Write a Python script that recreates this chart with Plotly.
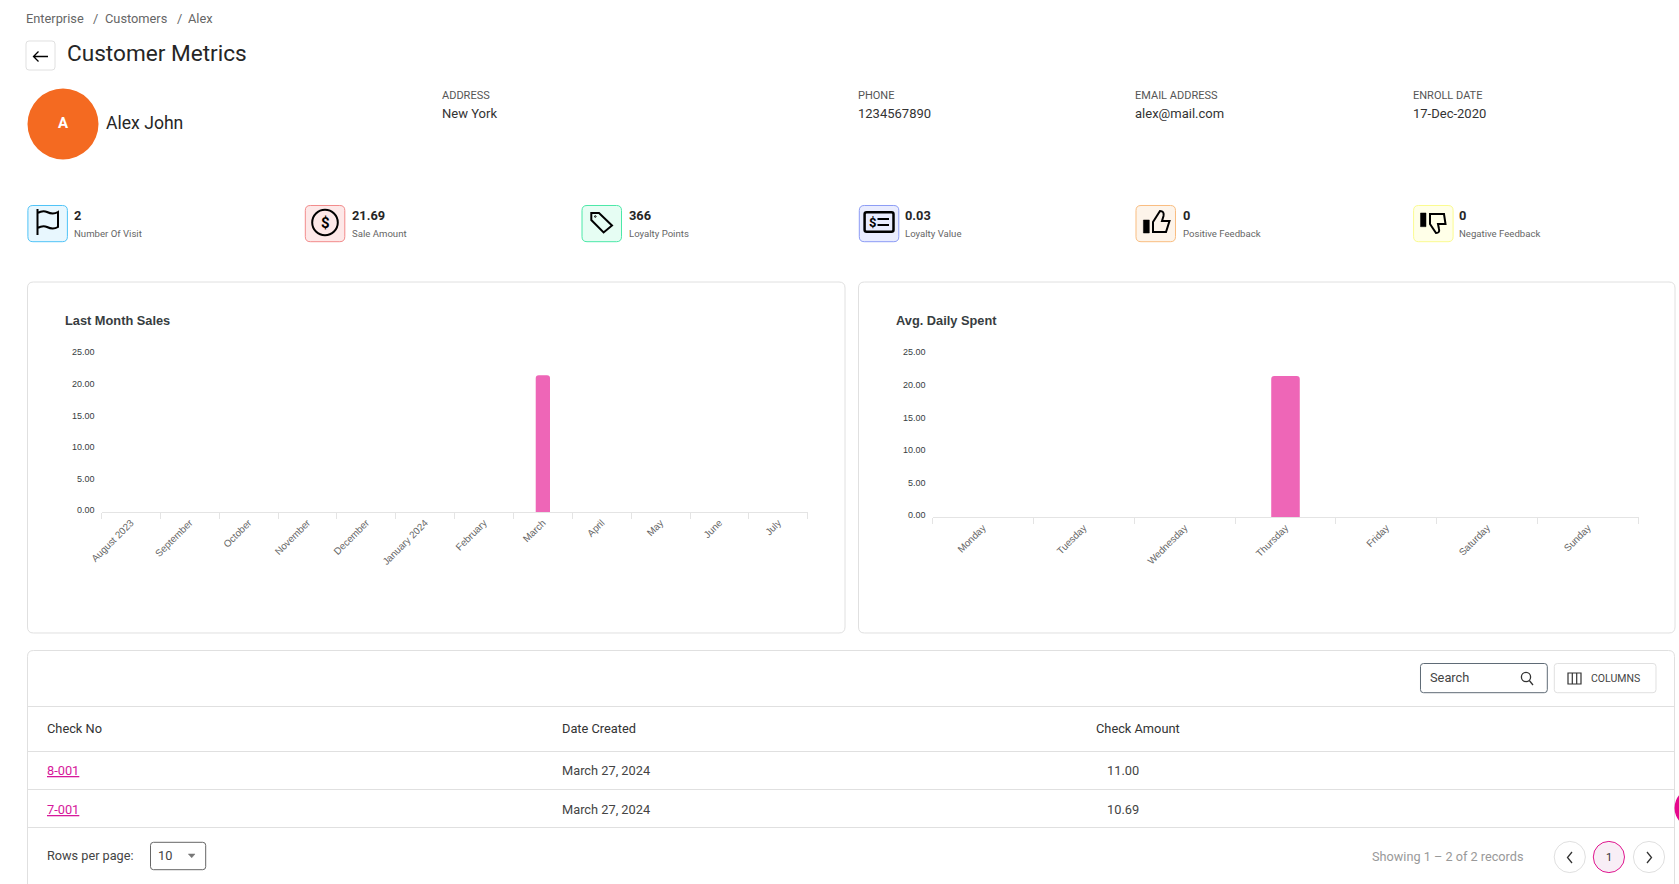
import re
import plotly.graph_objects as go

# chart data
months = ["August 2023", "September", "October", "November", "December", "January 2024",
          "February", "March", "April", "May", "June", "July"]
month_sales = [0, 0, 0, 0, 0, 0, 0, 21.69, 0, 0, 0, 0]
days = ["Monday", "Tuesday", "Wednesday", "Thursday", "Friday", "Saturday", "Sunday"]
daily_spent = [0, 0, 0, 21.69, 0, 0, 0]
y_ticks = [0, 5, 10, 15, 20, 25]
y_labels = ["0.00", "5.00", "10.00", "15.00", "20.00", "25.00"]

# page content
info_labels = ["ADDRESS", "PHONE", "EMAIL ADDRESS", "ENROLL DATE"]
info_values = ["New York", "1234567890", "alex@mail.com", "17-Dec-2020"]
stat_values = ["2", "21.69", "366", "0.03", "0", "0"]
stat_labels = ["Number Of Visit", "Sale Amount", "Loyalty Points", "Loyalty Value",
               "Positive Feedback", "Negative Feedback"]
table_headers = ["Check No", "Date Created", "Check Amount"]
check_nos = ["8-001", "7-001"]
check_dates = ["March 27, 2024", "March 27, 2024"]
check_amounts = ["11.00", "10.69"]

W, H = 1679, 884
FONT = "Roboto"
CHART_FONT = "Liberation Sans"
PINK = "#ee66b7"
BORDER = "#e0e0e0"

shapes = []
notes = []


def px(x):
    return x / W


def py(y):
    return 1 - y / H


def text(x, y, s, size=12.8, color="#333333", anchor="left", family=FONT):
    if anchor == "left":
        x -= 1
    notes.append(dict(x=px(x), y=py(y), xref="paper", yref="paper", text=s, showarrow=False, xanchor=anchor,
                      yanchor="middle", borderpad=0, font=dict(family=family, size=size, color=color)))


def to_paper(path):
    # path is written in page pixels, shapes want paper fractions
    nums = iter(range(10000))

    def conv(m):
        v = float(m.group())
        return f"{px(v):.6f}" if next(nums) % 2 == 0 else f"{py(v):.6f}"
    return re.sub(r"-?\d+\.?\d*", conv, path)


def draw(path, color="#000000", width=2, fill=None):
    s = dict(type="path", path=to_paper(path), xref="paper", yref="paper", layer="below",
             line=dict(color=color, width=width))
    if fill:
        s["fillcolor"] = fill
    shapes.append(s)


def rrect(x0, y0, x1, y1, r, color=BORDER, fill="#ffffff", width=1):
    draw(f"M{x0 + r} {y0} L{x1 - r} {y0} Q{x1} {y0} {x1} {y0 + r} L{x1} {y1 - r} Q{x1} {y1} {x1 - r} {y1} "
         f"L{x0 + r} {y1} Q{x0} {y1} {x0} {y1 - r} L{x0} {y0 + r} Q{x0} {y0} {x0 + r} {y0} Z",
         color=color, width=width, fill=fill)


def circle(cx, cy, r, color="#000000", fill=None, width=2):
    s = dict(type="circle", x0=px(cx - r), x1=px(cx + r), y0=py(cy + r), y1=py(cy - r), xref="paper", yref="paper",
             layer="below", line=dict(color=color, width=width))
    if fill:
        s["fillcolor"] = fill
    shapes.append(s)


def hline(y, x0=27.5, x1=1674.5):
    draw(f"M{x0} {y} L{x1} {y}", color=BORDER, width=1)


# header
text(26, 18, "Enterprise", 12.8, "#666666")
text(93, 18, "/", 12.8, "#666666")
text(105, 18, "Customers", 12.8, "#666666")
text(177, 18, "/", 12.8, "#666666")
text(188, 18, "Alex", 12.8, "#666666")
rrect(26, 41, 55, 70, 3)
draw("M48 56.5 L33.5 56.5 M38.5 51.5 L33.5 56.5 L38.5 61.5", width=1.3)
text(67, 53, "Customer Metrics", 22.6, "#262626")

circle(63, 124, 35.5, color="#f46a21", fill="#f46a21", width=0)
text(63, 123, "<b>A</b>", 15, "#ffffff", anchor="center")
text(105.5, 123.5, "Alex John", 17.6, "#262626")

info_x = [442.4, 858, 1135.4, 1412.5]
for x, lab, val in zip(info_x, info_labels, info_values):
    text(x, 95, lab, 11, "#555555")
    text(x, 113.5, val, 13, "#333333")

# stat tiles
box_x = [27.9, 305.3, 582, 859.3, 1136, 1413.6]
stat_x = [74.4, 351.7, 629, 905.3, 1182.6, 1458.9]
box_line = ["#4fc3f7", "#f28b8b", "#4be8a8", "#8c9cf5", "#f9bd80", "#fbfb90"]
box_fill = ["#e8f7fe", "#fde8e8", "#e6fdf3", "#e9ecfe", "#fdf4ea", "#ffffe8"]
for x, sx, c, f, val, lab in zip(box_x, stat_x, box_line, box_fill, stat_values, stat_labels):
    rrect(x, 205.5, x + 39.5, 241.7, 5, color=c, fill=f)
    text(sx, 215, f"<b>{val}</b>", 12.8, "#262626")
    text(sx, 234, lab, 9.6, "#666666")

# icons
draw("M37.5 209 L37.5 235 M37.5 213 Q43 210 47 212 Q53 215 58 212 L58 227 Q53 230 47 227 Q43 225 37.5 228")
circle(325, 222.5, 12.8)
text(325, 223, "<b>$</b>", 15, "#000000", anchor="center")
draw("M591.3 213 L599 213 L612 225.5 L603.6 232.5 L591.3 220 Z")
circle(595.3, 216.5, 0.8, width=1)
rrect(864.6, 212.3, 893.5, 231.7, 2, color="#000000", fill="rgba(0,0,0,0)", width=2.5)
text(872.6, 222, "<b>$</b>", 13, "#000000", anchor="center")
draw("M877.5 219 L889 219 M877.5 225 L889 225")
draw("M1143.4 220 L1149.3 220 L1149.3 233 L1143.4 233 Z", fill="#000000", width=0.5)
draw("M1153 222 L1160 211 Q1164.5 211 1163.5 216 L1162 221 L1169.5 221 L1166 232 L1153 232 Z")
draw("M1420.5 213 L1426 213 L1426 226.7 L1420.5 226.7 Z", fill="#000000", width=0.5)
draw("M1430 214 L1444 214 L1445.5 224 L1438 224 L1439 229 Q1440 233 1436 233 L1430 224 Z")

# chart cards
rrect(27.5, 282, 845, 633, 6)
rrect(858.5, 282, 1675, 633, 6)
text(65, 320, "<b>Last Month Sales</b>", 12.8, "#373d3f", family=CHART_FONT)
text(896, 320, "<b>Avg. Daily Spent</b>", 12.8, "#373d3f", family=CHART_FONT)

# table card
rrect(27.5, 650.5, 1674.5, 900, 6)
hline(706.5)
hline(751.5)
hline(789.5)
hline(827.5)
col_x = [47, 562.4, 1096.3]
for x, h in zip(col_x, table_headers):
    text(x, 728.5, h, 12.8, "#333333")
for y, no, d, amt in zip([770.7, 809.7], check_nos, check_dates, check_amounts):
    text(47, y, f"<u>{no}</u>", 12.8, "#d6189b")
    text(562.4, y, d, 12.8, "#444444")
    text(1123, y, amt, 12.8, "#444444", anchor="center")

# table toolbar
rrect(1420.5, 663.5, 1547.3, 692.7, 3, color="#5f6b76")
text(1429.6, 677.5, "Search", 12.8, "#444444")
circle(1526, 677, 4.6, color="#333333", width=1.3)
draw("M1529.3 680.5 L1533 685", color="#333333", width=1.3)
rrect(1554.3, 663.5, 1656, 692.7, 3)
draw("M1568 673 L1581 673 L1581 684 L1568 684 Z M1572.3 673 L1572.3 684 M1576.7 673 L1576.7 684", color="#333333", width=1.2)
text(1590.7, 678, "COLUMNS", 10.5, "#444444")

# footer
text(47, 855, "Rows per page:", 12.7, "#444444")
rrect(150.5, 842.3, 205.7, 869.7, 3, color="#666666")
text(157.5, 855.5, "10", 12.8, "#444444")
draw("M188.3 854 L195 854 L191.7 857.8 Z", color="#777777", width=0.5, fill="#777777")
text(1372, 856, "Showing 1 – 2 of 2 records", 12.7, "#999999")
circle(1569.8, 857, 15.6, color=BORDER, fill="#ffffff", width=1)
draw("M1572 852 L1567.5 857.5 L1572 863", color="#333333", width=1.3)
circle(1608.9, 857, 15.6, color="#e0168f", fill="#f8eef6", width=1)
text(1608.9, 857, "1", 11, "#333333", anchor="center")
circle(1649, 857, 15.6, color=BORDER, fill="#ffffff", width=1)
draw("M1647 852 L1651.5 857.5 L1647 863", color="#333333", width=1.3)
circle(1695, 808, 20.5, color="#e6078d", fill="#e6078d", width=0)

fig = go.Figure()
fig.add_trace(go.Bar(x=months, y=month_sales, width=0.243, marker=dict(color=PINK, cornerradius=3, line_width=0),
                     xaxis="x", yaxis="y"))
fig.add_trace(go.Bar(x=days, y=daily_spent, width=0.283, marker=dict(color=PINK, cornerradius=3, line_width=0),
                     xaxis="x2", yaxis="y2"))

x_style = dict(type="category", showgrid=False, zeroline=False, showline=True, linecolor="#e4e4e4", linewidth=1,
               ticks="outside", ticklen=6, tickcolor="#e4e4e4", tickson="boundaries", tickangle=-45,
               tickfont=dict(family=CHART_FONT, size=9.8, color="#666666"))
y_style = dict(range=[0, 25], showgrid=False, zeroline=False, showline=False, ticks="",
               tickmode="array", tickvals=y_ticks, ticktext=y_labels, ticklabelstandoff=6, ticklabelshift=-2,
               tickfont=dict(family=CHART_FONT, size=9, color="#373d3f"))

fig.update_layout(
    width=W, height=H, margin=dict(l=0, r=0, t=0, b=0, autoexpand=False),
    paper_bgcolor="#ffffff", plot_bgcolor="rgba(0,0,0,0)", showlegend=False,
    xaxis=dict(domain=[101.5 / W, 807.7 / W], anchor="y", **x_style),
    yaxis=dict(domain=[py(512.3), py(354.3)], anchor="x", **y_style),
    xaxis2=dict(domain=[932.5 / W, 1638.5 / W], anchor="y2", **x_style),
    yaxis2=dict(domain=[py(517.3), py(354.3)], anchor="x2", **y_style),
    shapes=shapes, annotations=notes,
)

fig.write_html("out.html", config=dict(displayModeBar=False),
               post_script="document.body.style.margin='0';document.body.style.overflow='hidden';")
